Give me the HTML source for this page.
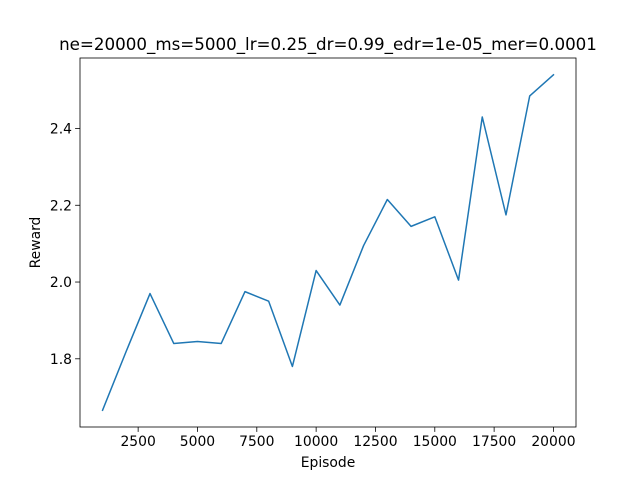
<!DOCTYPE html>
<html><head><meta charset="utf-8"><style>
body{margin:0;background:#fff;width:640px;height:480px;overflow:hidden}
text{font-family:"DejaVu Sans","Liberation Sans",sans-serif;fill:#000}
</style></head><body>
<svg id="chart" width="640" height="480" xmlns="http://www.w3.org/2000/svg">
<text x="328" y="50" font-size="16.7" text-anchor="middle">ne=20000_ms=5000_lr=0.25_dr=0.99_edr=1e-05_mer=0.0001</text>
<g id="xt"></g>
<g id="yt"></g>
<text x="328" y="467" font-size="13.9" text-anchor="middle">Episode</text>
<text transform="translate(40,242.5) rotate(-90)" font-size="13.9" text-anchor="middle">Reward</text>
<path id="line" fill="none" stroke="#1f77b4" stroke-width="1.5" stroke-linejoin="round" stroke-linecap="square"/>
<rect x="80" y="58" width="496" height="369" fill="none" stroke="#000" stroke-width="0.8"/>
</svg>
<script>
const episodes=[1000,2000,3000,4000,5000,6000,7000,8000,9000,10000,11000,12000,13000,14000,15000,16000,17000,18000,19000,20000];
const rewards=[1.666,1.82,1.97,1.84,1.845,1.84,1.975,1.95,1.78,2.03,1.94,2.095,2.215,2.145,2.17,2.005,2.43,2.175,2.485,2.54];
const xTicks=[2500,5000,7500,10000,12500,15000,17500,20000];
const yTicks=[1.8,2.0,2.2,2.4];
const L=80,R=576,T=58,B=427;
const xmin=Math.min(...episodes),xmax=Math.max(...episodes),ymin=Math.min(...rewards),ymax=Math.max(...rewards);
const xm=(xmax-xmin)*0.05,ym=(ymax-ymin)*0.05;
const sx=v=>L+(v-(xmin-xm))/((xmax+xm)-(xmin-xm))*(R-L);
const sy=v=>B-(v-(ymin-ym))/((ymax+ym)-(ymin-ym))*(B-T);
const NS="http://www.w3.org/2000/svg";
document.getElementById('line').setAttribute('d',episodes.map((e,i)=>(i?'L':'M')+sx(e).toFixed(2)+','+sy(rewards[i]).toFixed(2)).join(''));
const xg=document.getElementById('xt'),yg=document.getElementById('yt');
xTicks.forEach(t=>{const x=sx(t);
const l=document.createElementNS(NS,'line');l.setAttribute('x1',x);l.setAttribute('x2',x);l.setAttribute('y1',B);l.setAttribute('y2',B+4.9);l.setAttribute('stroke','#000');l.setAttribute('stroke-width','0.8');

xg.appendChild(l);
const s=document.createElementNS(NS,'text');s.setAttribute('x',x);s.setAttribute('y',B+19);s.setAttribute('font-size','13.9');s.setAttribute('text-anchor','middle');s.textContent=t;

xg.appendChild(s);});
yTicks.forEach(t=>{const y=sy(t);
const l=document.createElementNS(NS,'line');l.setAttribute('x1',L-4.9);l.setAttribute('x2',L);l.setAttribute('y1',y);l.setAttribute('y2',y);l.setAttribute('stroke','#000');l.setAttribute('stroke-width','0.8');

yg.appendChild(l);
const s=document.createElementNS(NS,'text');s.setAttribute('x',L-8);s.setAttribute('y',y+5);s.setAttribute('font-size','13.9');s.setAttribute('text-anchor','end');s.textContent=t.toFixed(1);

yg.appendChild(s);});
</script>
</body></html>
